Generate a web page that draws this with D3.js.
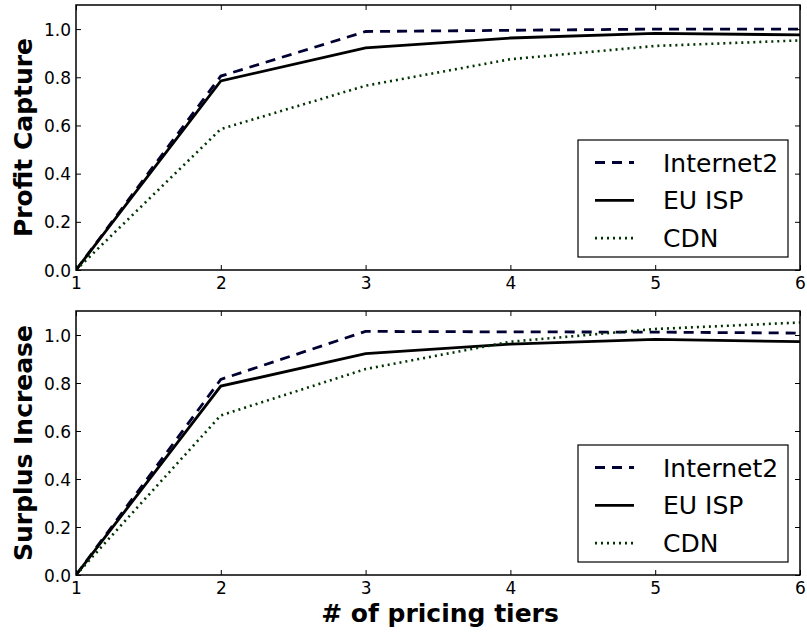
<!DOCTYPE html>
<html><head><meta charset="utf-8">
<script src="https://cdn.jsdelivr.net/npm/d3@7"></script>
<style>body{margin:0;background:#fff}</style>
</head><body>
<svg id="c" width="807" height="632"></svg>
<script>
const tiers = [1, 2, 3, 4, 5, 6];
const seriesNames = ["Internet2", "EU ISP", "CDN"];
const profitInternet2 = [0, 0.805, 0.99, 0.995, 1.0, 1.0];
const profitEUISP = [0, 0.785, 0.922, 0.963, 0.982, 0.976];
const profitCDN = [0, 0.585, 0.765, 0.875, 0.93, 0.953];
const surplusInternet2 = [0, 0.815, 1.015, 1.013, 1.012, 1.008];
const surplusEUISP = [0, 0.787, 0.922, 0.962, 0.982, 0.972];
const surplusCDN = [0, 0.665, 0.858, 0.972, 1.025, 1.052];
const yTicks = [0, 0.2, 0.4, 0.6, 0.8, 1.0];
const xTicks = [1, 2, 3, 4, 5, 6];
const yTitles = ["Profit Capture", "Surplus Increase"];
const xTitle = "# of pricing tiers";

const styles = [
  {color: "#000033", dash: "10,7", w: 2.8},
  {color: "#000000", dash: null, w: 2.8},
  {color: "#003300", dash: "2,4", w: 2.6}
];

const svg = d3.select("#c");
const left = 76, right = 800;
const panels = [
  {top: 5, bottom: 270, data: [profitInternet2, profitEUISP, profitCDN], title: yTitles[0], legendTop: 140},
  {top: 311, bottom: 575, data: [surplusInternet2, surplusEUISP, surplusCDN], title: yTitles[1], legendTop: 445}
];
const x = d3.scaleLinear().domain([1, 6]).range([left, right]);
const font = "DejaVu Sans, sans-serif";

panels.forEach((p, pi) => {
  const y = d3.scaleLinear().domain([0, 1.1]).range([p.bottom, p.top]);
  const g = svg.append("g");
  const clipId = "clip" + pi;
  svg.append("clipPath").attr("id", clipId).append("rect")
    .attr("x", left).attr("y", p.top).attr("width", right - left).attr("height", p.bottom - p.top);

  const line = d3.line().x((d, i) => x(tiers[i])).y(d => y(d));
  p.data.forEach((vals, si) => {
    g.append("path").datum(vals)
      .attr("d", line)
      .attr("fill", "none")
      .attr("stroke", styles[si].color)
      .attr("stroke-width", styles[si].w)
      .attr("stroke-dasharray", styles[si].dash)
      .attr("clip-path", "url(#" + clipId + ")");
  });

  const axB = d3.axisBottom(x).tickValues(xTicks).tickFormat(d3.format("d")).tickSizeInner(-5).tickSizeOuter(0).tickPadding(7);
  const axT = d3.axisTop(x).tickValues(xTicks).tickFormat("").tickSizeInner(-5).tickSizeOuter(0);
  const axL = d3.axisLeft(y).tickValues(yTicks).tickFormat(d3.format(".1f")).tickSizeInner(-5).tickSizeOuter(0).tickPadding(5);
  const axR = d3.axisRight(y).tickValues(yTicks).tickFormat("").tickSizeInner(-5).tickSizeOuter(0);
  const gb = g.append("g").attr("transform", `translate(0,${p.bottom})`).call(axB);
  const gt = g.append("g").attr("transform", `translate(0,${p.top})`).call(axT);
  const gl = g.append("g").attr("transform", `translate(${left},0)`).call(axL);
  const gr = g.append("g").attr("transform", `translate(${right},0)`).call(axR);
  [gb, gt, gl, gr].forEach(a => {
    a.select(".domain").remove();
    a.selectAll("line").attr("stroke", "#000").attr("stroke-width", 1);
    a.selectAll("text").attr("font-family", font).attr("font-size", 17).attr("fill", "#000");
  });
  gb.selectAll("text").attr("dy", "0.71em");
  gl.selectAll("text").attr("dy", "0.36em");

  g.append("rect").attr("x", left).attr("y", p.top).attr("width", right - left).attr("height", p.bottom - p.top)
    .attr("fill", "none").attr("stroke", "#000").attr("stroke-width", 1.5);

  g.append("text")
    .attr("transform", `translate(32,${(p.top + p.bottom) / 2}) rotate(-90)`)
    .attr("text-anchor", "middle")
    .attr("font-family", font).attr("font-weight", "bold").attr("font-size", 25)
    .text(p.title);

  const lg = g.append("g");
  lg.append("rect").attr("x", 578).attr("y", p.legendTop).attr("width", 210).attr("height", 117)
    .attr("fill", "#fff").attr("stroke", "#000").attr("stroke-width", 1.2);
  seriesNames.forEach((name, si) => {
    const cy = p.legendTop + 22.5 + si * 37.8;
    lg.append("line").attr("x1", 595).attr("x2", 634).attr("y1", cy).attr("y2", cy)
      .attr("stroke", styles[si].color).attr("stroke-width", styles[si].w)
      .attr("stroke-dasharray", styles[si].dash);
    lg.append("text").attr("x", 663).attr("y", cy).attr("dy", "0.36em")
      .attr("font-family", font).attr("font-size", 25).text(name);
  });
});

svg.append("text").attr("x", 440).attr("y", 622)
  .attr("text-anchor", "middle")
  .attr("font-family", font).attr("font-weight", "bold").attr("font-size", 25)
  .text(xTitle);
</script>
</body></html>
